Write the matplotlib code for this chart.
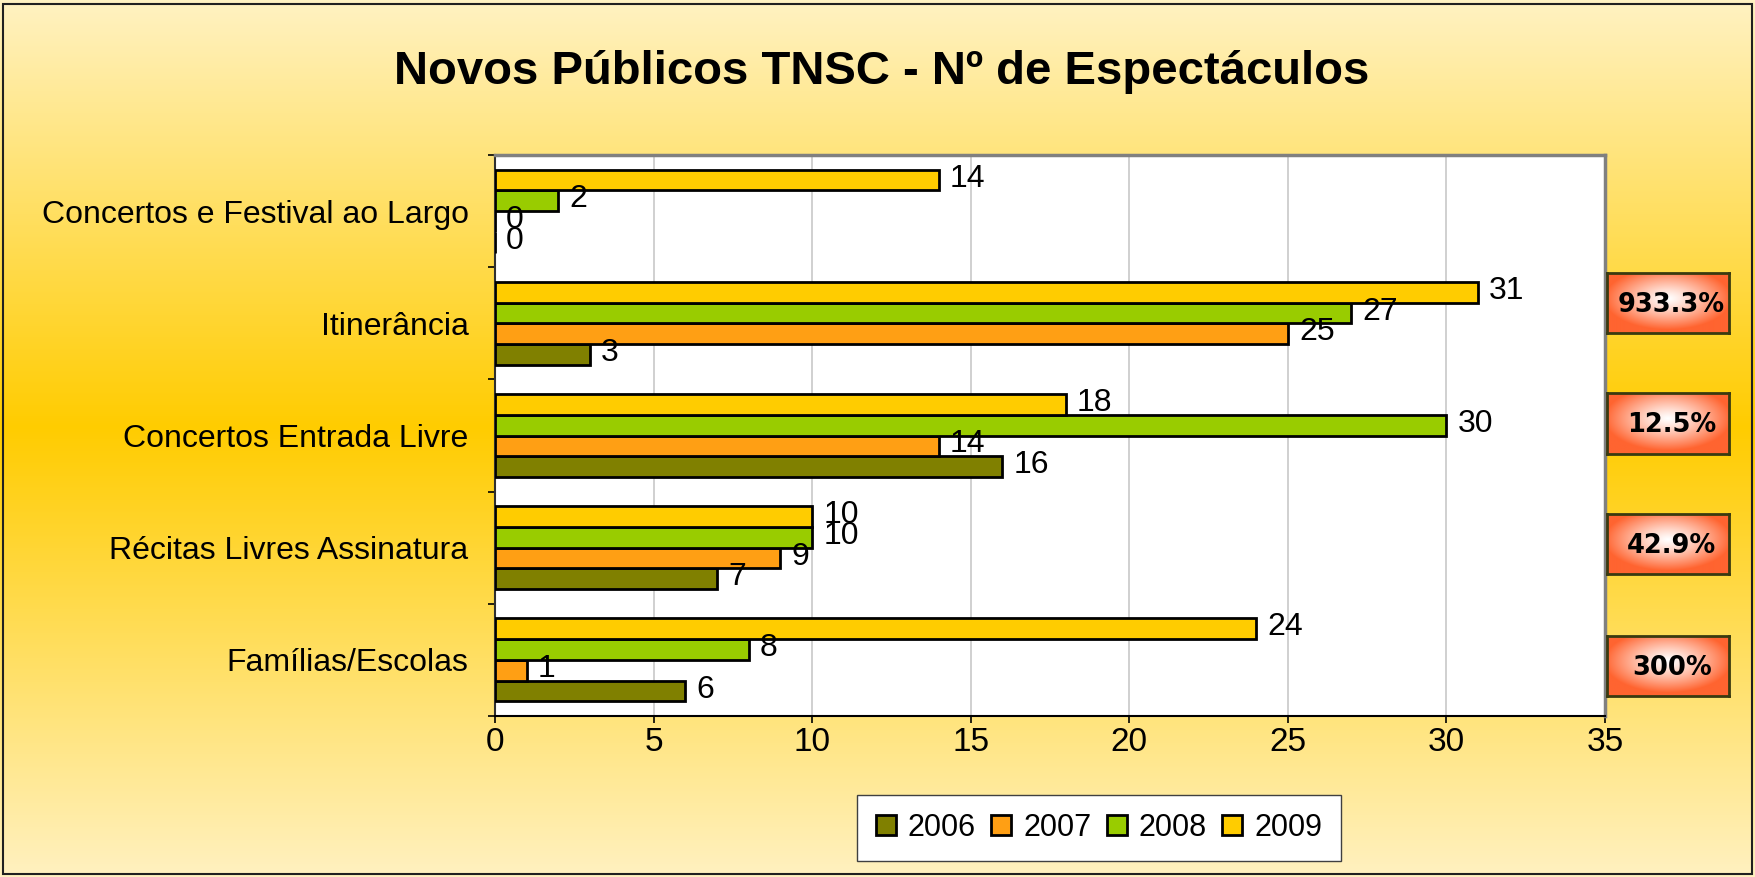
import numpy as np
import matplotlib
matplotlib.use("Agg")
import matplotlib.pyplot as plt
from matplotlib.patches import Patch, Rectangle
from matplotlib.colors import to_rgb

categories = ["Famílias/Escolas", "Récitas Livres Assinatura", "Concertos Entrada Livre",
              "Itinerância", "Concertos e Festival ao Largo"]
years = ["2006", "2007", "2008", "2009"]
v2006 = [6, 7, 16, 3, 0]
v2007 = [1, 9, 14, 25, 0]
v2008 = [8, 10, 30, 27, 2]
v2009 = [24, 10, 18, 31, 14]
growth = ["933.3%", "12.5%", "42.9%", "300%"]

colors = ["#808000", "#FF9F14", "#99CC00", "#FFCC00"]
series = [v2006, v2007, v2008, v2009]

plt.rcParams["font.family"] = ["Liberation Sans", "DejaVu Sans"]

W, H = 1756, 877
fig = plt.figure(figsize=(W / 100, H / 100), dpi=100)

# background gradient
bg = fig.add_axes([0, 0, 1, 1], zorder=-10)
yy = np.linspace(0, 1, 400)
light_top = np.array(to_rgb("#FFF2C2"))
light_bot = np.array(to_rgb("#FFF1C0"))
gold = np.array(to_rgb("#FFCC00"))
peak = 427 / H
col = np.zeros((400, 1, 3))
for i, y in enumerate(yy):
    if y < peak:
        t = y / peak
        col[i, 0] = light_top * (1 - t) + gold * t
    else:
        t = (y - peak) / (1 - peak)
        col[i, 0] = gold * (1 - t) + light_bot * t
bg.imshow(col, aspect="auto", extent=[0, 1, 1, 0])
bg.set_xlim(0, 1)
bg.set_ylim(1, 0)
bg.axis("off")
fig.patches.append(Rectangle((3 / W, 3 / H), 1 - 7 / W, 1 - 7 / H, transform=fig.transFigure,
                             fill=False, edgecolor="#202020", lw=1.5))

def px_axes(x0, y0, x1, y1, **kw):
    return fig.add_axes([x0 / W, 1 - y1 / H, (x1 - x0) / W, (y1 - y0) / H], **kw)

ax = px_axes(495, 155, 1605, 716)
ax.set_facecolor("white")

h = 0.185
y = np.arange(len(categories))
for j, (vals, c) in enumerate(zip(series, colors)):
    pos = y + (j - 1.5) * h
    ax.barh(pos, vals, height=h, color=c, edgecolor="black", linewidth=2, zorder=3)
    for p, v in zip(pos, vals):
        ax.annotate(str(v), (v, p), xytext=(8, 1), textcoords="offset points",
                    va="center", ha="left", fontsize=23, zorder=5)

ax.set_xlim(0, 35)
ax.set_ylim(-0.5, len(categories) - 0.5)
ax.set_xticks(np.arange(0, 36, 5))
ax.tick_params(axis="x", labelsize=24, length=5, width=1.2, pad=3, color="black")
ax.grid(axis="x", color="#C8C8C8", lw=1.2, zorder=0)
ax.set_yticks(np.arange(-0.5, len(categories), 1.0))
ax.set_yticklabels([])
ax.tick_params(axis="y", which="major", length=5, width=1.2)
ax.set_yticks(y, minor=True)
ax.set_yticklabels(categories, minor=True)
ax.tick_params(axis="y", which="minor", length=0, labelsize=23, pad=19)
for s in ["top", "right"]:
    ax.spines[s].set_color("#808080")
    ax.spines[s].set_linewidth(2.5)
ax.spines["left"].set_color("#303030")
ax.spines["left"].set_linewidth(1.5)
ax.spines["bottom"].set_color("black")
ax.spines["bottom"].set_linewidth(1.5)

fig.text(882 / W, 1 - 84 / H, "Novos Públicos TNSC - Nº de Espectáculos",
         ha="center", va="baseline", fontsize=34, fontweight="bold")

handles = [Patch(facecolor=c, edgecolor="black", linewidth=2) for c in colors]
fig.legend(handles, years, loc="center", bbox_to_anchor=(1099 / W, 1 - 828 / H), ncol=4,
           fontsize=22, frameon=True, fancybox=False, edgecolor="#404040", framealpha=1,
           handlelength=0.65, handleheight=0.65, handletextpad=0.4, columnspacing=0.5,
           borderpad=0.6, borderaxespad=0)

# growth boxes
orange = np.array(to_rgb("#FF6430"))
gx, gy = np.meshgrid(np.linspace(-1, 1, 120), np.linspace(-1, 1, 60))
d = np.sqrt(gx ** 2 + (gy + 0.15) ** 2)
t = np.clip(d / 1.05, 0, 1) ** 1.2
grad = (1 - t)[..., None] * np.ones(3) + t[..., None] * orange
box_y = [(273, 333), (393, 454), (514, 574), (636, 696)]
for (y0, y1), g in zip(box_y, growth):
    bx = px_axes(1607, y0, 1729, y1)
    bx.imshow(grad, aspect="auto", extent=[0, 1, 0, 1])
    bx.set_xlim(0, 1)
    bx.set_ylim(0, 1)
    bx.set_xticks([])
    bx.set_yticks([])
    for s in bx.spines.values():
        s.set_color("#3A3A10")
        s.set_linewidth(2)
    bx.text(0.53, 0.47, g, ha="center", va="center", fontsize=18.5, fontweight="bold",
            family="DejaVu Sans")

fig.savefig("out.png", dpi=100)
